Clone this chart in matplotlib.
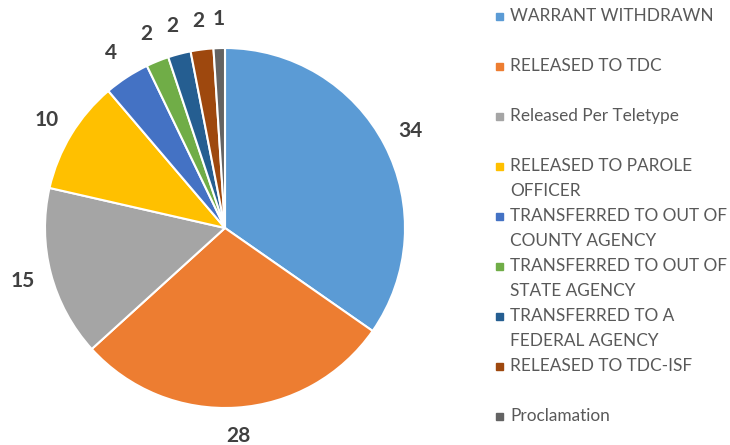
import matplotlib.pyplot as plt
from matplotlib.patches import Rectangle

plt.rcParams['font.family'] = ['Lato', 'DejaVu Sans']

categories = ['WARRANT WITHDRAWN', 'RELEASED TO TDC', 'Released Per Teletype',
              'RELEASED TO PAROLE\nOFFICER', 'TRANSFERRED TO OUT OF\nCOUNTY AGENCY',
              'TRANSFERRED TO OUT OF\nSTATE AGENCY', 'TRANSFERRED TO A\nFEDERAL AGENCY',
              'RELEASED TO TDC-ISF', 'Proclamation']
counts = [34, 28, 15, 10, 4, 2, 2, 2, 1]
colors = ['#5B9BD5', '#ED7D31', '#A5A5A5', '#FFC000', '#4472C4',
          '#70AD47', '#255E91', '#9E480E', '#636363']

W, H = 730, 445
fig = plt.figure(figsize=(W / 100, H / 100), dpi=100)

# pie centre / radius in pixels
cx, cy, r = 225, 228, 180
ax = fig.add_axes([(cx - r) / W, (H - cy - r) / H, 2 * r / W, 2 * r / H])
wedges, texts = ax.pie(counts, colors=colors, startangle=90, counterclock=False,
                       labels=[str(c) for c in counts], labeldistance=1.16,
                       wedgeprops=dict(edgecolor='white', linewidth=1.5),
                       textprops=dict(fontsize=15, fontweight='bold', color='#404040'))
for t in texts:
    t.set_ha('center')
    t.set_va('center')
ax.set_xlim(-1, 1)
ax.set_ylim(-1, 1)
ax.set_aspect('equal')
ax.axis('off')

# legend, drawn by hand so wrapped entries keep the slot spacing
for i, (lab, col) in enumerate(zip(categories, colors)):
    top = 21 + 50 * i
    fig.patches.append(Rectangle((496 / W, (H - top + 1.5) / H), 7 / W, 7 / H,
                                 color=col, transform=fig.transFigure))
    for j, line in enumerate(lab.split('\n')):
        fig.text(510 / W, (H - top - 25 * j) / H, line, fontsize=12.4,
                 color='#595959', va='baseline', ha='left')

fig.savefig('out.png', dpi=100, facecolor='white')
